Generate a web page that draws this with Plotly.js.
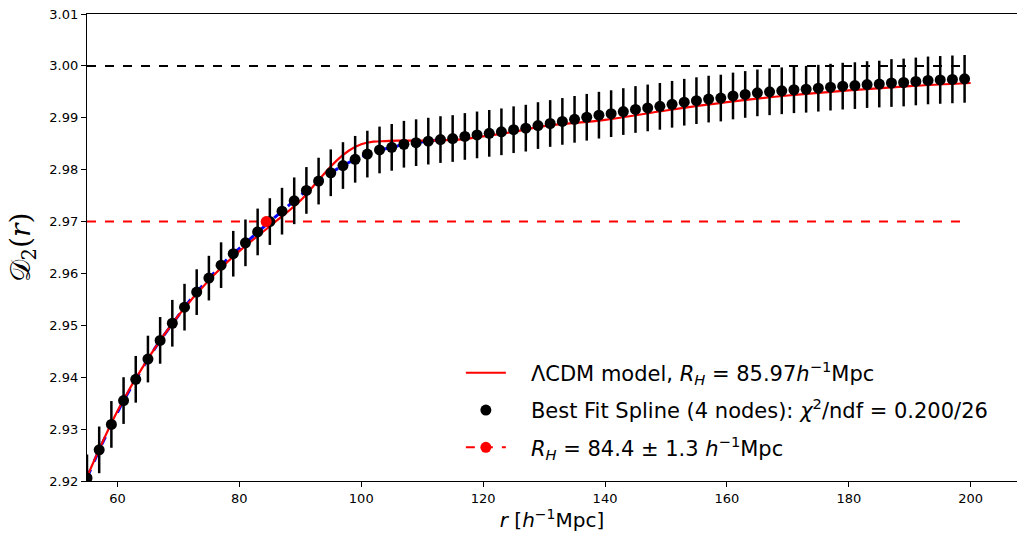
<!DOCTYPE html>
<html>
<head>
<meta charset="utf-8">
<script src="https://cdn.plot.ly/plotly-3.0.1.min.js"></script>
<style>html,body{margin:0;padding:0;background:#fff;}#chart{width:1017px;height:536px;}</style>
</head>
<body>
<div id="chart"></div>
<script>
// Measured points (r in h^-1 Mpc)
const rData = [55,57,59,61,63,65,67,69,71,73,75,77,79,81,83,85,87,89,91,93,95,97,99,101,103,105,107,109,111,113,115,117,119,121,123,125,127,129,131,133,135,137,139,141,143,145,147,149,151,153,155,157,159,161,163,165,167,169,171,173,175,177,179,181,183,185,187,189,191,193,195,197,199];
const d2Data = [2.9206,2.9260,2.9309,2.9355,2.9396,2.9435,2.9471,2.9504,2.9535,2.9564,2.9591,2.9616,2.9638,2.9659,2.9680,2.9700,2.9720,2.9740,2.9760,2.9778,2.9794,2.9808,2.9820,2.9830,2.9838,2.9843,2.9849,2.9852,2.9855,2.9858,2.9860,2.9864,2.9867,2.9870,2.9873,2.9877,2.9880,2.9885,2.9889,2.9893,2.9897,2.9901,2.9905,2.9908,2.9912,2.9916,2.9919,2.9922,2.9926,2.9930,2.9933,2.9936,2.9938,2.9942,2.9945,2.9948,2.9950,2.9952,2.9954,2.9955,2.9957,2.9959,2.9961,2.9962,2.9964,2.9965,2.9967,2.9968,2.9970,2.9972,2.9973,2.9974,2.9975];
const d2Err = [0.0045,0.0045,0.0045,0.0045,0.0045,0.0045,0.0045,0.0045,0.0045,0.0044,0.0043,0.0044,0.0044,0.0045,0.0045,0.0045,0.0045,0.0045,0.0045,0.0045,0.0045,0.0045,0.0045,0.0045,0.0045,0.0045,0.0045,0.0045,0.0045,0.0045,0.0045,0.0045,0.0045,0.0045,0.0045,0.0045,0.0045,0.0045,0.0045,0.0045,0.0045,0.0045,0.0045,0.0045,0.0045,0.0045,0.0045,0.0045,0.0045,0.0045,0.0045,0.0045,0.0045,0.0045,0.0045,0.0045,0.0045,0.0045,0.0045,0.0045,0.0045,0.0045,0.0045,0.0045,0.0045,0.0045,0.0046,0.0046,0.0046,0.0046,0.0046,0.0046,0.0046];

// Best-fit spline (blue dashed), r range 55..113
const rSpline = [55,57,59,61,63,65,67,69,71,73,75,77,79,81,83,85,87,89,91,93,95,97,99,101,103,105,107,109,111,113];
const d2Spline = [2.9206,2.9260,2.9309,2.9355,2.9396,2.9435,2.9471,2.9504,2.9535,2.9564,2.9591,2.9616,2.9638,2.9659,2.9680,2.9700,2.9720,2.9740,2.9760,2.9778,2.9794,2.9808,2.9820,2.9830,2.9838,2.9843,2.9849,2.9852,2.9855,2.9858];

// LambdaCDM model curve
const rModel = [55,60,65,70,75,80,85,90,93,96,98,100,102,104,106,110,116,120,125,130,140,150,160,170,180,190,200];
const d2Model = [2.9208,2.9335,2.9436,2.9519,2.9587,2.9643,2.9691,2.9740,2.9780,2.9818,2.9837,2.9849,2.9854,2.9855,2.9856,2.9856,2.9858,2.9864,2.9873,2.9884,2.9896,2.9914,2.9930,2.9943,2.9953,2.9961,2.9967];

// Reference lines and homogeneity scale
const refX = [55,199];
const homogeneousLevel = [3.00,3.00];
const thresholdLevel = [2.97,2.97];
const rH = [84.4];
const rHLevel = [2.97];

const yTicks = [2.92,2.93,2.94,2.95,2.96,2.97,2.98,2.99,3.00,3.01];
const xTicks = [60,80,100,120,140,160,180,200];

const pad = '\u00A0\u00A0\u00A0';
const traces = [
  {x: refX, y: homogeneousLevel, mode:'lines', line:{color:'black', dash:'dash', width:2}, showlegend:false, hoverinfo:'skip'},
  {x: refX, y: thresholdLevel, mode:'lines', line:{color:'#ff0000', dash:'dash', width:2}, showlegend:false, hoverinfo:'skip'},
  {x: rSpline, y: d2Spline, mode:'lines', line:{color:'#0000ff', dash:'dash', width:3}, showlegend:false},
  {x: rModel, y: d2Model, mode:'lines', line:{color:'#ff0000', width:2.2, shape:'spline'}, legendrank:1, legendgroup:'a',
   name: pad + 'ΛCDM model, <i>R<sub>H</sub></i> = 85.97<i>h</i><sup>−1</sup>Mpc'},
  {x: rData, y: d2Data, mode:'markers', marker:{color:'black', size:11},
   error_y:{type:'data', array:d2Err, visible:true, color:'black', thickness:2.5, width:0}, legendrank:2, legendgroup:'b',
   name: pad + 'Best Fit Spline (4 nodes): <i>χ</i><sup>2</sup>/ndf = 0.200/26'},
  {x: rH, y: rHLevel, mode:'lines+markers', marker:{color:'#ff0000', size:11}, line:{color:'#ff0000', dash:'dash', width:2}, legendrank:3, legendgroup:'c',
   name: pad + '<i>R<sub>H</sub></i> = 84.4 ± 1.3 <i>h</i><sup>−1</sup>Mpc'}
];

const layout = {
  width:1017, height:536,
  margin:{l:87, r:0, t:14, b:55, pad:0},
  paper_bgcolor:'white', plot_bgcolor:'white',
  font:{family:'DejaVu Sans', color:'black', size:13},
  showlegend:true,
  legend:{x:0.402, y:0.275, xanchor:'left', yanchor:'top', bgcolor:'rgba(0,0,0,0)', font:{size:21, family:'DejaVu Sans'},
    traceorder:'grouped', tracegroupgap:7, itemwidth:40},
  xaxis:{range:[55,207.6], tickvals:xTicks, ticktext:xTicks.map(String), ticks:'outside', ticklen:5, tickwidth:1, tickcolor:'black',
    showline:true, linecolor:'black', linewidth:1.2, mirror:true, showgrid:false, zeroline:false,
    tickfont:{size:13},
    title:{text:'<i>r</i> [<i>h</i><sup>−1</sup>Mpc]', font:{size:20}, standoff:8}},
  yaxis:{range:[2.92,3.01], tickvals:yTicks, ticktext:yTicks.map(v=>v.toFixed(2)), ticks:'outside', ticklen:5, tickwidth:1, tickcolor:'black',
    showline:true, linecolor:'black', linewidth:1.2, showgrid:false, zeroline:false,
    tickfont:{size:13},
    title:{text:'𝒟<sub>2</sub>(<i>r</i>)', font:{size:28, family:'DejaVu Serif'}, standoff:10}}
};

Plotly.newPlot('chart', traces, layout, {displayModeBar:false, staticPlot:true});
</script>
</body>
</html>
